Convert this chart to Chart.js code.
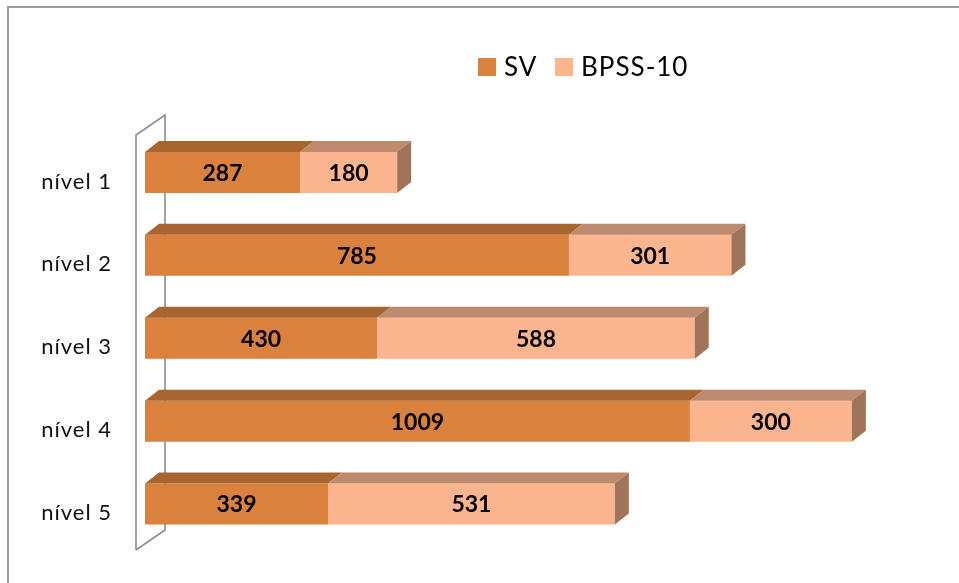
<!DOCTYPE html>
<html>
<head>
<meta charset="utf-8">
<script src="https://cdn.jsdelivr.net/npm/chart.js@4/dist/chart.umd.min.js"></script>
<style>
  html, body { margin: 0; padding: 0; background: #ffffff; }
  #wrap { width: 959px; height: 583px; }
</style>
</head>
<body>
<div id="wrap"><canvas id="c" width="959" height="583"></canvas></div>
<script>
const categories = ['nível 1', 'nível 2', 'nível 3', 'nível 4', 'nível 5'];
const seriesNames = ['SV', 'BPSS-10'];
const svValues = [287, 785, 430, 1009, 339];
const bpssValues = [180, 301, 588, 300, 531];

const FRONT = ['#DA813D', '#FAB48E'];
const TOP = ['#A86530', '#BE8A6E'];
const SIDE = ['#8F552A', '#A0745A'];
const DX = 14, DY = 11;

const threeD = {
  id: 'threeD',
  beforeDraw(chart) {
    const ctx = chart.ctx;
    ctx.save();
    ctx.fillStyle = '#ffffff';
    ctx.fillRect(0, 0, chart.width, chart.height);
    ctx.strokeStyle = '#9a9a9a';
    ctx.lineWidth = 2;
    ctx.strokeRect(8, 7, chart.width + 20, chart.height + 20);
    ctx.restore();
    ctx.letterSpacing = '1px';
  },
  beforeDatasetsDraw(chart) {
    const ctx = chart.ctx;
    ctx.letterSpacing = '0px';
    const a = chart.chartArea;
    const fx = a.left - 9, ft = a.top + 4, fb = a.bottom + 4.5;
    const wdx = 29, wdy = 20;
    ctx.save();
    ctx.strokeStyle = '#8e8e8e';
    ctx.lineWidth = 1.6;
    ctx.beginPath();
    ctx.moveTo(fx, fb);
    ctx.lineTo(fx, ft);
    ctx.lineTo(fx + wdx, ft - wdy);
    ctx.lineTo(fx + wdx, fb - wdy);
    ctx.lineTo(fx, fb);
    ctx.stroke();
    ctx.restore();
  },
  afterDatasetsDraw(chart) {
    const ctx = chart.ctx;
    const nDs = chart.data.datasets.length;
    ctx.save();
    for (let d = 0; d < nDs; d++) {
      const meta = chart.getDatasetMeta(d);
      meta.data.forEach((el) => {
        const p = el.getProps(['x', 'y', 'base', 'height'], true);
        const x0 = Math.min(p.base, p.x), x1 = Math.max(p.base, p.x);
        const top = p.y - p.height / 2, bot = p.y + p.height / 2;
        ctx.fillStyle = TOP[d];
        ctx.beginPath();
        ctx.moveTo(x0, top);
        ctx.lineTo(x1, top);
        ctx.lineTo(x1 + DX, top - DY);
        ctx.lineTo(x0 + DX, top - DY);
        ctx.closePath();
        ctx.fill();
        if (d === nDs - 1) {
          ctx.fillStyle = SIDE[d];
          ctx.beginPath();
          ctx.moveTo(x1, top);
          ctx.lineTo(x1 + DX, top - DY);
          ctx.lineTo(x1 + DX, bot - DY);
          ctx.lineTo(x1, bot);
          ctx.closePath();
          ctx.fill();
        }
      });
    }
    // value labels
    ctx.letterSpacing = '0px';
    ctx.fillStyle = '#000000';
    ctx.font = 'bold 23px Lato';
    ctx.textAlign = 'center';
    ctx.textBaseline = 'middle';
    for (let d = 0; d < nDs; d++) {
      const meta = chart.getDatasetMeta(d);
      const vals = chart.data.datasets[d].data;
      meta.data.forEach((el, i) => {
        const p = el.getProps(['x', 'y', 'base'], true);
        ctx.fillText(String(vals[i]), (p.x + p.base) / 2, p.y + 1);
      });
    }
    // legend
    ctx.font = '26px Lato';
    ctx.letterSpacing = '1px';
    ctx.textAlign = 'left';
    const boxX = [478, 555];
    const ly = 67;
    chart.data.datasets.forEach((ds, d) => {
      ctx.fillStyle = ds.backgroundColor;
      ctx.fillRect(boxX[d], ly - 9, 18, 18);
      ctx.fillStyle = '#000000';
      ctx.fillText(ds.label, boxX[d] + 26, ly + 1);
    });
    ctx.restore();
  }
};

new Chart(document.getElementById('c'), {
  type: 'bar',
  data: {
    labels: categories,
    datasets: [
      { label: seriesNames[0], data: svValues, backgroundColor: FRONT[0] },
      { label: seriesNames[1], data: bpssValues, backgroundColor: FRONT[1] }
    ]
  },
  options: {
    indexAxis: 'y',
    responsive: false,
    animation: false,
    devicePixelRatio: 1,
    layout: { padding: { left: 0, top: 131, right: 58, bottom: 37.5 } },
    datasets: { bar: { categoryPercentage: 1, barPercentage: 0.495, borderWidth: 0 } },
    scales: {
      x: { stacked: true, min: 0, max: 1400, display: false },
      y: {
        stacked: true,
        grid: { display: false, drawTicks: false },
        border: { display: false },
        afterFit(scale) { scale.width = 145; scale.paddingTop = 0; scale.paddingBottom = 0; },
        ticks: { padding: 33, labelOffset: 9, color: '#111111', font: { family: 'Lato', size: 22 } }
      }
    },
    plugins: { legend: { display: false }, tooltip: { enabled: false } }
  },
  plugins: [threeD]
});
</script>
</body>
</html>
